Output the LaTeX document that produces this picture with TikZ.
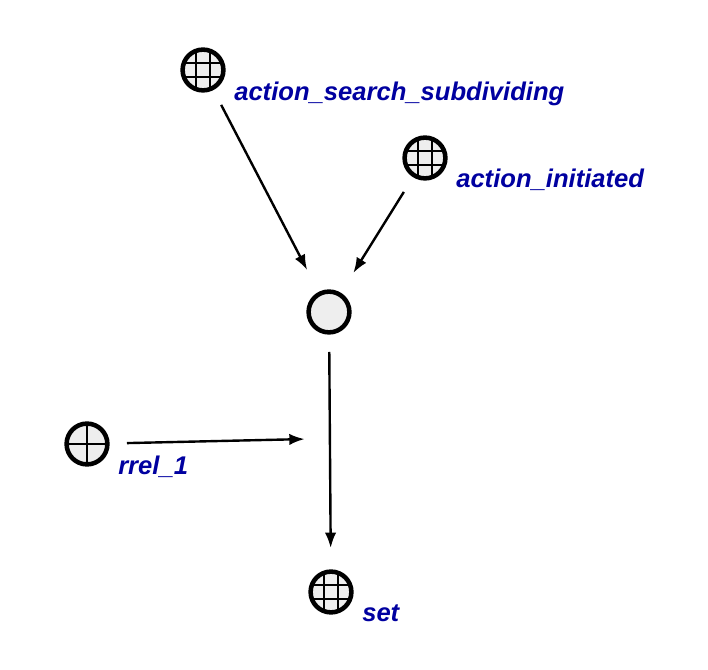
\documentclass[tikz,border=0pt]{standalone}
\usepackage{fontspec}
\setmainfont{Liberation Sans}
\usetikzlibrary{arrows.meta}
\definecolor{lab}{RGB}{0,0,160}
\definecolor{disc}{RGB}{238,238,238}
\tikzset{
  base/.style={circle,draw=black,line width=3.4pt,fill=disc,minimum size=30.6pt,inner sep=0pt},
  gridnode/.style={base,path picture={
    \draw[black,line width=1.5pt]
      ([xshift=-5pt,yshift=-20pt]path picture bounding box.center) -- ([xshift=-5pt,yshift=20pt]path picture bounding box.center)
      ([xshift=5pt,yshift=-20pt]path picture bounding box.center) -- ([xshift=5pt,yshift=20pt]path picture bounding box.center)
      ([xshift=-20pt,yshift=-5pt]path picture bounding box.center) -- ([xshift=20pt,yshift=-5pt]path picture bounding box.center)
      ([xshift=-20pt,yshift=5pt]path picture bounding box.center) -- ([xshift=20pt,yshift=5pt]path picture bounding box.center);}},
  crossnode/.style={base,path picture={
    \draw[black,line width=1.5pt]
      ([yshift=-20pt]path picture bounding box.center) -- ([yshift=20pt]path picture bounding box.center)
      ([xshift=-20pt]path picture bounding box.center) -- ([xshift=20pt]path picture bounding box.center);}},
  lbl/.style={anchor=base west,inner sep=0pt,text=lab,font=\fontsize{19.2pt}{23pt}\selectfont\bfseries\itshape},
  conn/.style={draw=black,line width=1.8pt,-{Latex[length=11.5pt,width=8.5pt]}}
}
\begin{document}
\begin{tikzpicture}[x=0.75pt,y=-0.75pt]
\useasboundingbox (0,0) rectangle (708,670);
\node[gridnode] (a) at (203,70) {};
\node[gridnode] (b) at (425,158) {};
\node[base] (c) at (329,312) {};
\node[crossnode] (d) at (87,444) {};
\node[gridnode] (e) at (331,592) {};
\coordinate (m) at (330,438.5);
\node[lbl] (la) at (234,101) {action\_search\_subdividing};
\node[lbl] (lb) at (456,188) {action\_initiated};
\node[lbl] (ld) at (118,475) {rrel\_1};
\node[lbl] (le) at (362,622) {set};
\draw[conn,shorten <=29.5pt,shorten >=35.5pt] (a.center) -- (c.center);
\draw[conn,shorten <=30pt,shorten >=34.5pt] (b.center) -- (c.center);
\draw[conn,shorten <=30pt,shorten >=33pt] (c.center) -- (e.center);
\draw[conn,shorten <=30pt,shorten >=19pt] (d.center) -- (m);
\end{tikzpicture}
\end{document}
